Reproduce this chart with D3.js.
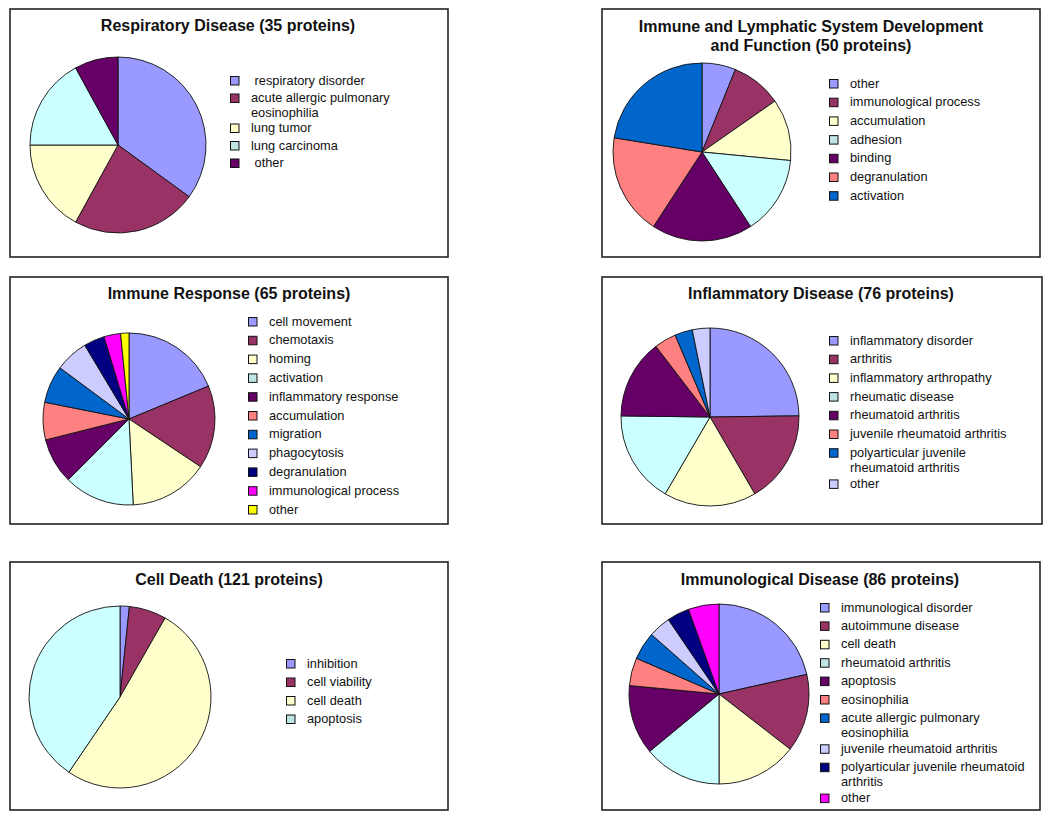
<!DOCTYPE html>
<html>
<head>
<meta charset="utf-8">
<script src="https://cdn.jsdelivr.net/npm/d3@7"></script>
<style>
  body { margin: 0; background: #fff; }
  svg { display: block; font-family: "Liberation Sans", Arial, sans-serif; }
  .legend text { white-space: pre; }
</style>
</head>
<body>
<svg id="chart" width="1050" height="817"></svg>
<script>
// Data

const respiratoryLabels = [' respiratory disorder', 'acute allergic pulmonary\neosinophilia', 'lung tumor', 'lung carcinoma', ' other'];
const respiratoryValues = [35, 23, 17, 17, 8];

const lymphaticLabels = ['other', 'immunological process', 'accumulation', 'adhesion', 'binding', 'degranulation', 'activation'];
const lymphaticValues = [6, 9, 11, 14, 18, 18, 22];

const immuneLabels = ['cell movement', 'chemotaxis', 'homing', 'activation', 'inflammatory response', 'accumulation',
  'migration', 'phagocytosis', 'degranulation', 'immunological process', 'other'];
const immuneValues = [24, 20, 19, 17, 11, 9, 9, 8, 5, 4, 2];

const inflammatoryLabels = ['inflammatory disorder', 'arthritis', 'inflammatory arthropathy', 'rheumatic disease',
  'rheumatoid arthritis', 'juvenile rheumatoid arthritis', 'polyarticular juvenile\nrheumatoid arthritis', 'other'];
const inflammatoryValues = [31, 21, 21, 21, 18, 5, 4, 4];

const cellDeathLabels = ['inhibition', 'cell viability', 'cell death', 'apoptosis'];
const cellDeathValues = [2, 8, 62, 49];

const immunologicalLabels = ['immunological disorder', 'autoimmune disease', 'cell death', 'rheumatoid arthritis',
  'apoptosis', 'eosinophilia', 'acute allergic pulmonary\neosinophilia', 'juvenile rheumatoid arthritis',
  'polyarticular juvenile rheumatoid\narthritis', 'other'];
const immunologicalValues = [21.5, 14, 14.5, 14, 12.5, 5, 5, 4, 4, 5.5];

// Excel-style palette, same order in every chart
const palette = ['#9999ff', '#993366', '#ffffcc', '#ccffff', '#660066', '#ff8080',
  '#0066cc', '#ccccff', '#000080', '#ff00ff', '#ffff00'];
const swatchPalette = palette.map(c => (c === '#ccffff' ? '#bfe4e4' : c));

// Layout of each panel (box, pie, title, legend)

const panels = [
  { title: ['Respiratory Disease (35 proteins)'], labels: respiratoryLabels, values: respiratoryValues,
    box: [10, 9, 438, 248], pie: [118, 145, 88], titleAt: [228, 25], legend: [230, 80, 17.5] },
  { title: ['Immune and Lymphatic System Development', 'and Function (50 proteins)'], labels: lymphaticLabels, values: lymphaticValues,
    box: [602, 9, 438, 248], pie: [702, 152, 89], titleAt: [811, 26], legend: [829, 83, 18.7] },
  { title: ['Immune Response (65 proteins)'], labels: immuneLabels, values: immuneValues,
    box: [10, 277, 438, 247], pie: [129, 419, 86], titleAt: [229, 293], legend: [248, 321, 18.8] },
  { title: ['Inflammatory Disease (76 proteins)'], labels: inflammatoryLabels, values: inflammatoryValues,
    box: [602, 277, 440, 247], pie: [710, 417, 89], titleAt: [821, 293], legend: [829, 340, 18.7] },
  { title: ['Cell Death (121 proteins)'], labels: cellDeathLabels, values: cellDeathValues,
    box: [10, 562, 438, 248], pie: [120, 697, 91], titleAt: [229, 579], legend: [286, 663, 18.5] },
  { title: ['Immunological Disease (86 proteins)'], labels: immunologicalLabels, values: immunologicalValues,
    box: [602, 562, 438, 248], pie: [719, 694, 90], titleAt: [820, 579], legend: [820, 607, 18.4] },
];

const svg = d3.select('#chart');
const color = d3.scaleOrdinal().domain(d3.range(palette.length)).range(palette);
const swatch = d3.scaleOrdinal().domain(d3.range(palette.length)).range(swatchPalette);
const pie = d3.pie().sort(null).value(d => d.value);
const lineHeight = 15;
const wrapExtra = 12.5;

panels.forEach(p => {
  const g = svg.append('g');
  const items = p.labels.map((label, i) => ({ label, value: p.values[i], i }));

  // Frame

  g.append('rect')
    .attr('x', p.box[0]).attr('y', p.box[1])
    .attr('width', p.box[2]).attr('height', p.box[3])
    .attr('fill', '#fff')
    .attr('stroke', '#222')
    .attr('stroke-width', 1.6);

  // Title

  g.append('text')
    .attr('x', p.titleAt[0]).attr('y', p.titleAt[1])
    .attr('text-anchor', 'middle')
    .attr('font-size', 16)
    .attr('font-weight', 'bold')
    .attr('fill', '#111')
    .selectAll('tspan')
    .data(p.title)
    .join('tspan')
    .attr('x', p.titleAt[0])
    .attr('dy', (d, i) => (i ? 19 : 0))
    .attr('dominant-baseline', 'central')
    .text(d => d);

  // Pie, starting at 12 o'clock and going clockwise

  const arc = d3.arc().innerRadius(0).outerRadius(p.pie[2]);

  g.append('g')
    .attr('transform', `translate(${p.pie[0]}, ${p.pie[1]})`)
    .selectAll('path')
    .data(pie(items))
    .join('path')
    .attr('d', arc)
    .attr('fill', d => color(d.data.i))
    .attr('stroke', '#111')
    .attr('stroke-width', 0.9)
    .attr('stroke-linejoin', 'round');

  // Legend, wrapped labels push the next rows down a bit

  let y = p.legend[1];
  items.forEach(d => {
    d.lines = d.label.split('\n');
    d.y = y;
    y += p.legend[2] + (d.lines.length - 1) * wrapExtra;
  });

  const rows = g.append('g')
    .attr('class', 'legend')
    .selectAll('g')
    .data(items)
    .join('g')
    .attr('transform', d => `translate(${p.legend[0]}, ${d.y})`);

  rows.append('rect')
    .attr('x', 0.5).attr('y', -3.5)
    .attr('width', 8.5).attr('height', 8.5)
    .attr('fill', d => swatch(d.i))
    .attr('stroke', '#111')
    .attr('stroke-width', 1);

  rows.append('text')
    .attr('font-size', 12.8)
    .attr('fill', '#111')
    .selectAll('tspan')
    .data(d => d.lines)
    .join('tspan')
    .attr('x', 21)
    .attr('y', (d, i) => i * lineHeight)
    .attr('dominant-baseline', 'central')
    .text(d => d);
});
</script>
</body>
</html>
